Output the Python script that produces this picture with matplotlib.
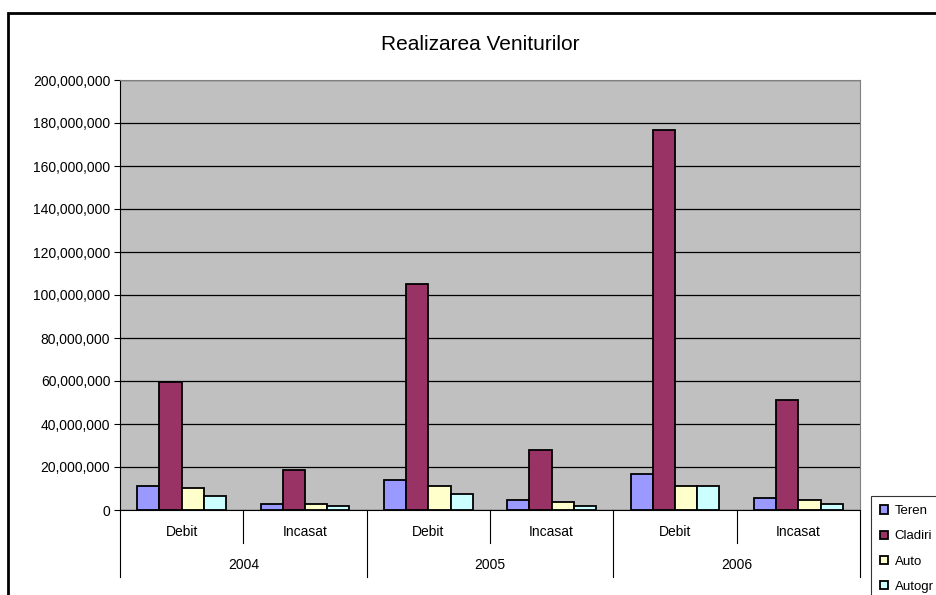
import matplotlib
matplotlib.use("Agg")
import matplotlib.pyplot as plt
from matplotlib.patches import Rectangle
from matplotlib.ticker import FuncFormatter
import numpy as np

plt.rcParams['font.family'] = ['Liberation Sans', 'DejaVu Sans']

# date
categories = ["Debit", "Incasat", "Debit", "Incasat", "Debit", "Incasat"]
years = ["2004", "2005", "2006"]
series = ["Teren", "Cladiri", "Auto", "Autogr"]
teren = [11.2e6, 2.7e6, 14.0e6, 4.7e6, 16.7e6, 5.4e6]
cladiri = [59.7e6, 18.6e6, 105.1e6, 27.9e6, 176.9e6, 51.3e6]
auto = [10.2e6, 2.9e6, 11.2e6, 3.7e6, 11.0e6, 4.8e6]
autogr = [6.5e6, 1.9e6, 7.4e6, 1.9e6, 11.0e6, 2.9e6]
colors = ["#9999FF", "#993366", "#FFFFCC", "#CCFFFF"]

fig = plt.figure(figsize=(9.37, 5.95), dpi=100)
W, H = 937, 595

# chenarul graficului
fig.patches.append(Rectangle((8 / W, -0.1), 1.2, (H - 13) / H + 0.1,
                             transform=fig.transFigure, fill=False,
                             edgecolor="black", linewidth=2))

ax = fig.add_axes([120 / W, (H - 510) / H, 740 / W, 430 / H])
ax.set_facecolor("#C0C0C0")

x = np.arange(len(categories))
w = 0.18
for i, (vals, c) in enumerate(zip([teren, cladiri, auto, autogr], colors)):
    ax.bar(x + (i - 1.5) * w, vals, w, color=c, edgecolor="black",
           linewidth=1.3, label=series[i], zorder=3)

ax.set_xlim(-0.5, 5.5)
ax.set_ylim(0, 200e6)
ax.set_yticks(np.arange(0, 200e6 + 1, 20e6))
ax.yaxis.set_major_formatter(FuncFormatter(lambda v, p: f"{int(v):,}"))
ax.tick_params(axis="y", labelsize=10, length=4, direction="out", pad=3)
ax.set_xticks([])
ax.grid(axis="y", color="black", linewidth=0.9, zorder=1)
ax.set_axisbelow(True)
for s in ["top", "right"]:
    ax.spines[s].set_color("#808080")
ax.spines["left"].set_color("black")
ax.spines["bottom"].set_color("black")

# axa categoriilor pe doua niveluri
trans = ax.get_xaxis_transform()
for i, c in enumerate(categories):
    ax.text(i, -22 / 430, c, transform=trans, ha="center", va="center", fontsize=10)
for j, yr in enumerate(years):
    ax.text(2 * j + 0.5, -55 / 430, yr, transform=trans, ha="center", va="center", fontsize=10)
for b in [0.5, 2.5, 4.5]:
    ax.plot([b, b], [0, -33 / 430], transform=trans, color="black", lw=0.8, clip_on=False)
for b in [-0.5, 1.5, 3.5, 5.5]:
    ax.plot([b, b], [0, -67 / 430], transform=trans, color="black", lw=0.8, clip_on=False)

fig.text(480 / W, 1 - 45 / H, "Realizarea Veniturilor", ha="center", va="center", fontsize=15)

leg = fig.legend(loc="upper left", bbox_to_anchor=(871 / W, 1 - 496 / H),
                 fontsize=9.5, frameon=True, fancybox=False, edgecolor="black",
                 handlelength=0.6, handleheight=0.6, labelspacing=1.0,
                 borderpad=0.7, handletextpad=0.5, borderaxespad=0)
leg.get_frame().set_linewidth(0.8)

fig.savefig("out.png", dpi=100)
